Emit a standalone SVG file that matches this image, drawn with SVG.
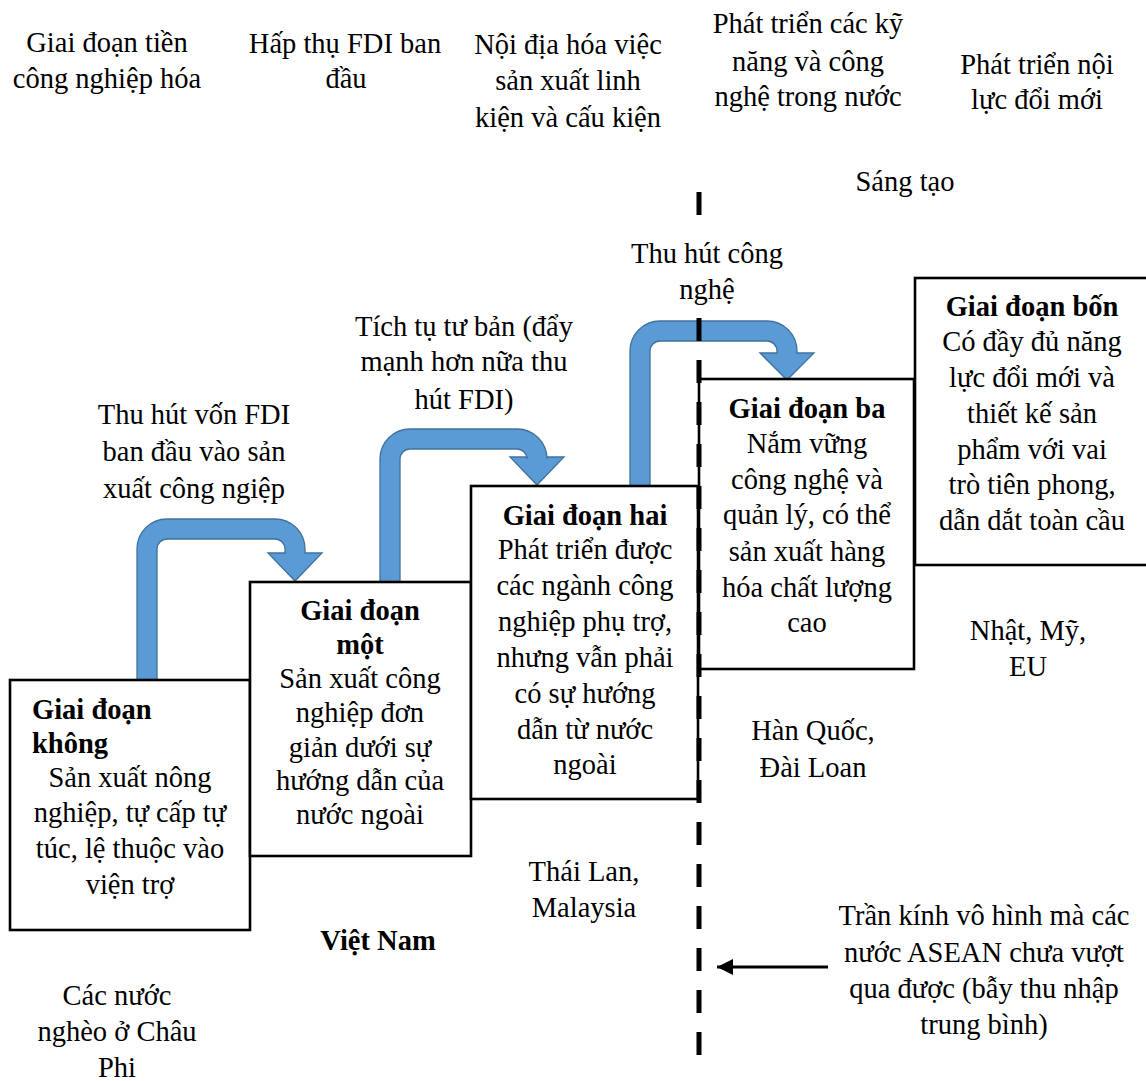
<svg xmlns="http://www.w3.org/2000/svg" width="1146" height="1081" viewBox="0 0 1146 1081">
<style>
text{font-family:"Liberation Serif","Times New Roman",serif;font-size:28.5px;fill:#000}
.c{text-anchor:middle}
.b{font-weight:bold}
.box{fill:#fff;stroke:#000;stroke-width:2.6}
.ua{fill:#5b9bd5;stroke:#41719c;stroke-width:1.3}
</style>
<defs>
<marker id="ah" markerWidth="16" markerHeight="16" refX="16" refY="8" orient="auto" markerUnits="userSpaceOnUse">
<path d="M0,0 L16,8 L0,16 Z" fill="#000"/>
</marker>
</defs>
<rect width="1146" height="1081" fill="#fff"/>

<g id="top-labels">
<text class="c" x="107" y="52">Giai đoạn tiền</text>
<text class="c" x="107" y="88">công nghiệp hóa</text>
<text class="c" x="345" y="53">Hấp thụ FDI ban</text>
<text class="c" x="346" y="88">đầu</text>
<text class="c" x="568" y="54">Nội địa hóa việc</text>
<text class="c" x="568" y="90">sản xuất linh</text>
<text class="c" x="568" y="127">kiện và cấu kiện</text>
<text class="c" x="808" y="33">Phát triển các kỹ</text>
<text class="c" x="808" y="71">năng và công</text>
<text class="c" x="808" y="106">nghệ trong nước</text>
<text class="c" x="1037" y="74">Phát triển nội</text>
<text class="c" x="1037" y="109">lực đổi mới</text>
<text class="c" x="905" y="191">Sáng tạo</text>
</g>

<g id="connectors">
<path class="ua" d="M137 681 L137 549 A30 30 0 0 1 167 519 L275 519 A30 30 0 0 1 305 549 L305 553 L322 553 L295 581 L268 553 L285 553 L285 549 A10 10 0 0 0 275 539 L167 539 A10 10 0 0 0 157 549 L157 681 Z"/>
<path class="ua" d="M380 583 L380 459 A30 30 0 0 1 410 429 L517 429 A30 30 0 0 1 547 459 L547 457 L564 457 L537 485 L510 457 L527 457 L527 459 A10 10 0 0 0 517 449 L410 449 A10 10 0 0 0 400 459 L400 583 Z"/>
<path class="ua" d="M630 487 L630 351 A30 30 0 0 1 660 321 L767 321 A30 30 0 0 1 797 351 L797 353 L814 353 L787 380 L760 353 L777 353 L777 351 A10 10 0 0 0 767 341 L660 341 A10 10 0 0 0 650 351 L650 487 Z"/>
</g>

<g id="arrow-labels">
<text class="c" x="464" y="336">Tích tụ tư bản (đẩy</text>
<text class="c" x="464" y="371">mạnh hơn nữa thu</text>
<text class="c" x="464" y="409">hút FDI)</text>
<text class="c" x="194" y="424">Thu hút vốn FDI</text>
<text class="c" x="194" y="461">ban đầu vào sản</text>
<text class="c" x="194" y="498">xuất công ngiệp</text>
</g>

<g id="stage0">
<rect class="box" x="10" y="680" width="240" height="250"/>
<text class="b" x="32" y="719">Giai đoạn</text>
<text class="b" x="32" y="753">không</text>
<text class="c" x="130" y="787">Sản xuất nông</text>
<text class="c" x="130" y="822">nghiệp, tự cấp tự</text>
<text class="c" x="130" y="858">túc, lệ thuộc vào</text>
<text class="c" x="130" y="894">viện trợ</text>
</g>

<g id="stage1">
<rect class="box" x="250" y="582" width="221" height="274"/>
<text class="c b" x="360" y="620">Giai đoạn</text>
<text class="c b" x="360" y="654">một</text>
<text class="c" x="360" y="688">Sản xuất công</text>
<text class="c" x="360" y="722">nghiệp đơn</text>
<text class="c" x="360" y="757">giản dưới sự</text>
<text class="c" x="360" y="790">hướng dẫn của</text>
<text class="c" x="360" y="824">nước ngoài</text>
</g>

<g id="stage2">
<rect class="box" x="471" y="486" width="227" height="313"/>
<text class="c b" x="585" y="525">Giai đoạn hai</text>
<text class="c" x="585" y="559">Phát triển được</text>
<text class="c" x="585" y="595">các ngành công</text>
<text class="c" x="585" y="631">nghiệp phụ trợ,</text>
<text class="c" x="585" y="667">nhưng vẫn phải</text>
<text class="c" x="585" y="703">có sự hướng</text>
<text class="c" x="585" y="739">dẫn từ nước</text>
<text class="c" x="585" y="774">ngoài</text>
</g>

<g id="stage3">
<rect class="box" x="699" y="379" width="215" height="290"/>
<text class="c b" x="807" y="418">Giai đoạn ba</text>
<text class="c" x="807" y="453">Nắm vững</text>
<text class="c" x="807" y="489">công nghệ và</text>
<text class="c" x="807" y="524">quản lý, có thể</text>
<text class="c" x="807" y="561">sản xuất hàng</text>
<text class="c" x="807" y="597">hóa chất lượng</text>
<text class="c" x="807" y="632">cao</text>
</g>

<g id="stage4">
<rect class="box" x="915" y="278" width="240" height="287"/>
<text class="c b" x="1032" y="316">Giai đoạn bốn</text>
<text class="c" x="1032" y="351">Có đầy đủ năng</text>
<text class="c" x="1032" y="387">lực đổi mới và</text>
<text class="c" x="1032" y="423">thiết kế sản</text>
<text class="c" x="1032" y="459">phẩm với vai</text>
<text class="c" x="1032" y="494">trò tiên phong,</text>
<text class="c" x="1032" y="530">dẫn dắt toàn cầu</text>
</g>

<g id="countries">
<text class="c" x="1028" y="640">Nhật, Mỹ,</text>
<text class="c" x="1028" y="676">EU</text>
<text class="c" x="813" y="740">Hàn Quốc,</text>
<text class="c" x="813" y="777">Đài Loan</text>
<text class="c" x="584" y="881">Thái Lan,</text>
<text class="c" x="584" y="917">Malaysia</text>
<text class="c b" x="378" y="950">Việt Nam</text>
<text class="c" x="117" y="1005">Các nước</text>
<text class="c" x="117" y="1041">nghèo ở Châu</text>
<text class="c" x="117" y="1077">Phi</text>
</g>

<g id="ceiling">
<line x1="699" y1="192" x2="699" y2="1055" stroke="#000" stroke-width="5" stroke-dasharray="23 19"/>
<line x1="828" y1="967" x2="717" y2="967" stroke="#000" stroke-width="3" marker-end="url(#ah)"/>
<text class="c" x="984" y="925">Trần kính vô hình mà các</text>
<text class="c" x="984" y="962">nước ASEAN chưa vượt</text>
<text class="c" x="984" y="998">qua được (bẫy thu nhập</text>
<text class="c" x="984" y="1034">trung bình)</text>
</g>

<g id="label-tech">
<rect x="622" y="224" width="170" height="88" fill="#fff"/>
<text class="c" x="707" y="263">Thu hút công</text>
<text class="c" x="707" y="299">nghệ</text>
</g>
</svg>
